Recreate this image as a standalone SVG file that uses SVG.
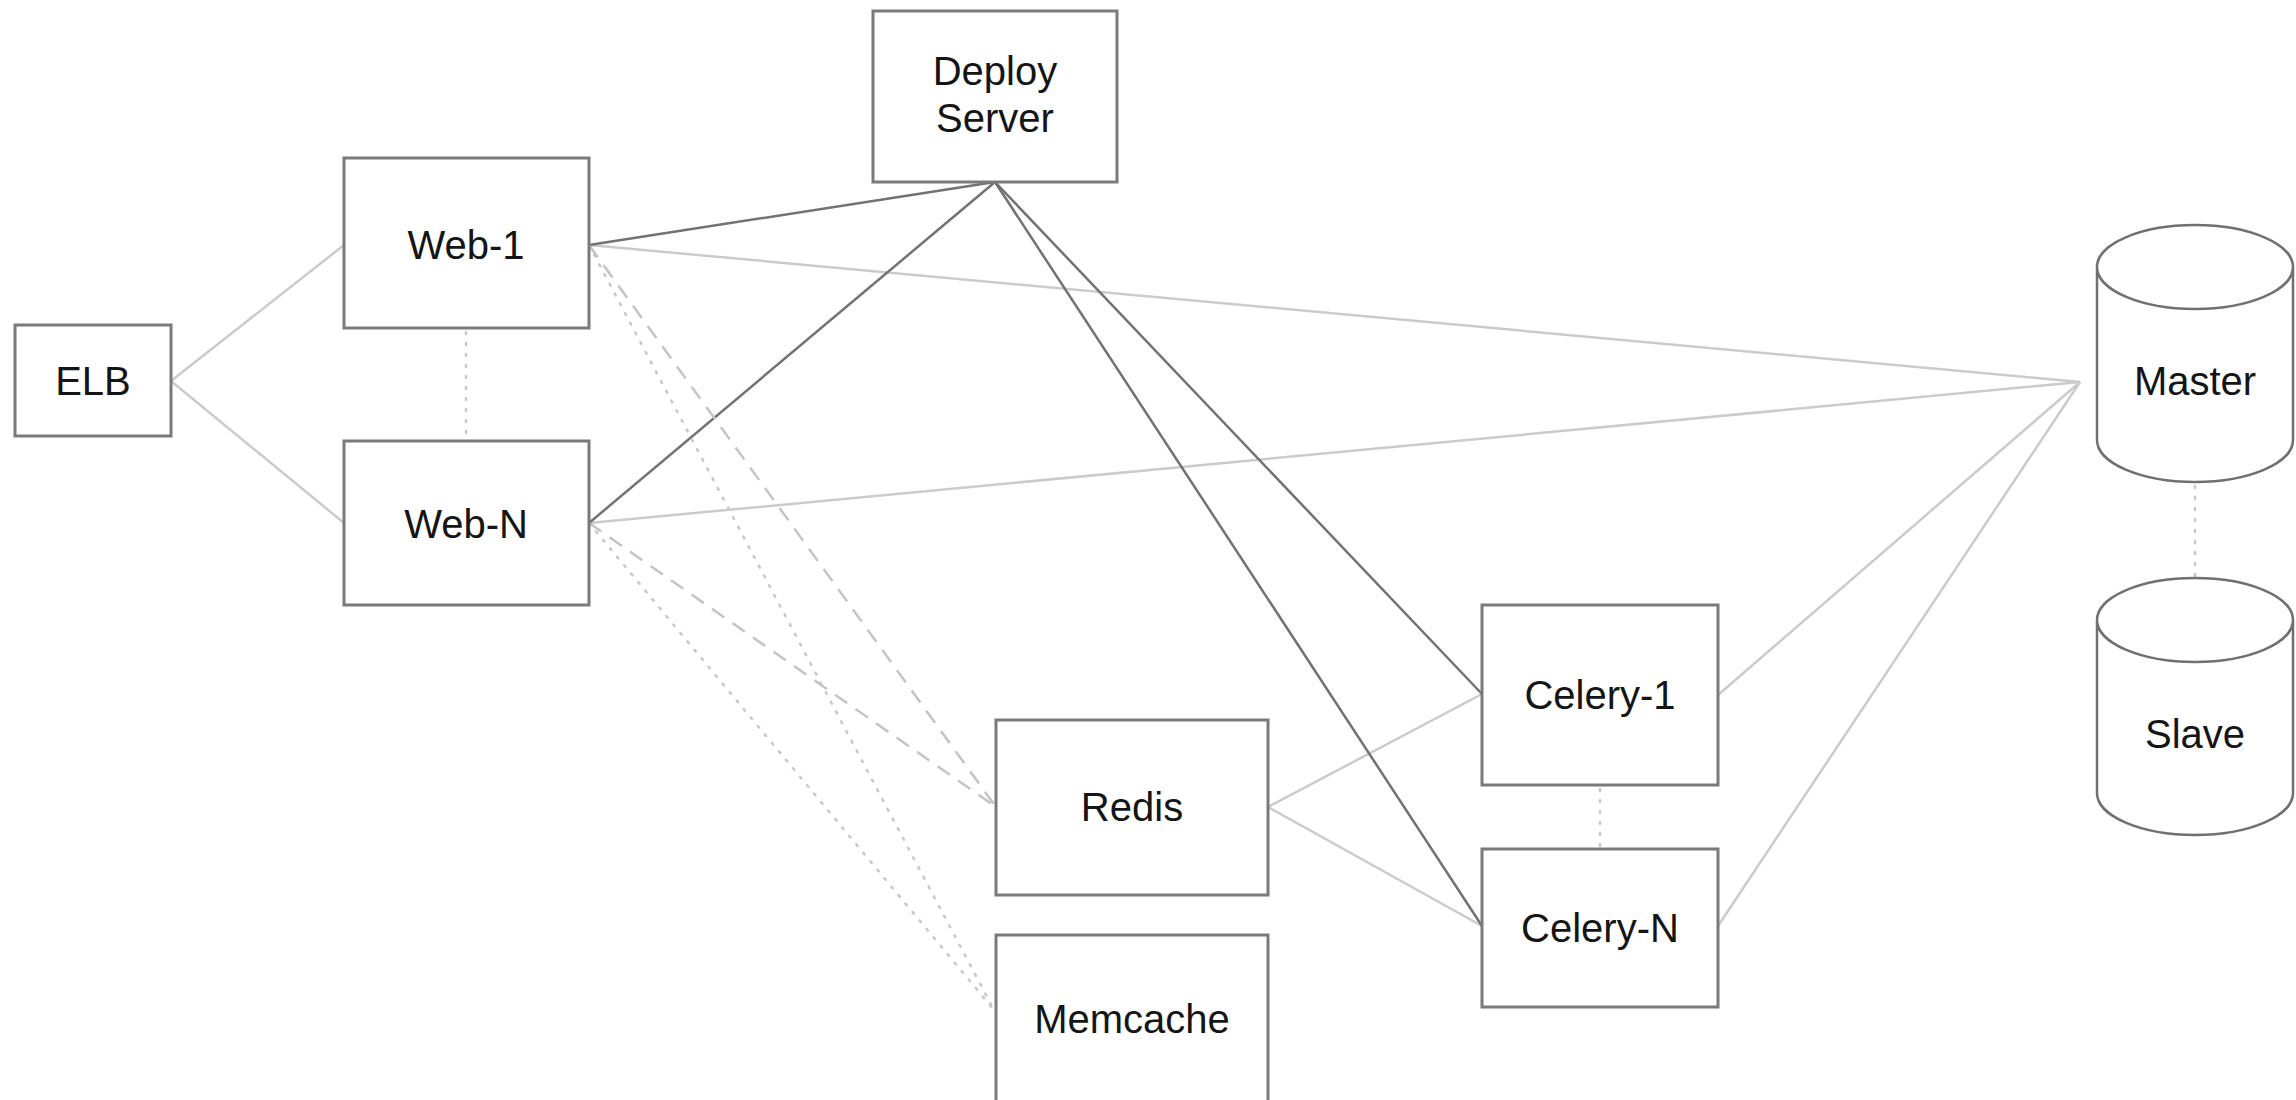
<svg xmlns="http://www.w3.org/2000/svg" width="2296" height="1100" viewBox="0 0 2296 1100">
<style>
.box{fill:#fff;stroke:#7a7a7a;stroke-width:3}
.cyl{fill:#fff;stroke:#707070;stroke-width:2.5}
.lbl{font-family:"Liberation Sans",Arial,sans-serif;font-size:40px;fill:#151515;text-anchor:middle}
.light{stroke:#cbcbcb;stroke-width:2.5;fill:none}
.dark{stroke:#727272;stroke-width:2.5;fill:none}
.dash{stroke:#c4c4c4;stroke-width:2.5;fill:none;stroke-dasharray:15 10}
.dot{stroke:#c8c8c8;stroke-width:2.5;fill:none;stroke-dasharray:2 9;stroke-linecap:round}
</style>
<rect width="2296" height="1100" fill="#fff"/>
<g id="connectors">
<line class="light" x1="171" y1="381" x2="344" y2="245"/>
<line class="light" x1="171" y1="381" x2="344" y2="523"/>
<line class="light" x1="589" y1="245" x2="2080" y2="382"/>
<line class="light" x1="589" y1="523" x2="2080" y2="382"/>
<line class="light" x1="1718" y1="695" x2="2080" y2="382"/>
<line class="light" x1="1718" y1="926" x2="2080" y2="382"/>
<line class="light" x1="1268" y1="807" x2="1482" y2="694"/>
<line class="light" x1="1268" y1="807" x2="1482" y2="926"/>
<line class="dark" x1="995" y1="182" x2="589" y2="245"/>
<line class="dark" x1="995" y1="182" x2="589" y2="523"/>
<line class="dark" x1="995" y1="182" x2="1482" y2="694"/>
<line class="dark" x1="995" y1="182" x2="1482" y2="926"/>
<line class="dash" x1="589" y1="245" x2="996" y2="807"/>
<line class="dash" x1="589" y1="523" x2="996" y2="807"/>
<line class="dot" x1="589" y1="245" x2="994" y2="1010"/>
<line class="dot" x1="589" y1="523" x2="994" y2="1010"/>
<line class="dot" x1="466" y1="332" x2="466" y2="440"/>
<line class="dot" x1="1600" y1="789" x2="1600" y2="848"/>
<line class="dot" x1="2195" y1="486" x2="2195" y2="577"/>
</g>
<g id="elb"><rect class="box" x="15" y="325" width="156" height="111"/><text class="lbl" x="93" y="395">ELB</text></g>
<g id="web1"><rect class="box" x="344" y="158" width="245" height="170"/><text class="lbl" x="466" y="259">Web-1</text></g>
<g id="webn"><rect class="box" x="344" y="441" width="245" height="164"/><text class="lbl" x="466" y="538">Web-N</text></g>
<g id="deploy"><rect class="box" x="873" y="11" width="244" height="171"/><text class="lbl" x="995" y="85">Deploy</text><text class="lbl" x="995" y="132">Server</text></g>
<g id="redis"><rect class="box" x="996" y="720" width="272" height="175"/><text class="lbl" x="1132" y="821">Redis</text></g>
<g id="memcache"><rect class="box" x="996" y="935" width="272" height="176"/><text class="lbl" x="1132" y="1033">Memcache</text></g>
<g id="celery1"><rect class="box" x="1482" y="605" width="236" height="180"/><text class="lbl" x="1600" y="709">Celery-1</text></g>
<g id="celeryn"><rect class="box" x="1482" y="849" width="236" height="158"/><text class="lbl" x="1600" y="942">Celery-N</text></g>
<g id="master"><path class="cyl" d="M2097,267 A98,42 0 0 1 2293,267 L2293,440 A98,42 0 0 1 2097,440 Z M2097,267 A98,42 0 0 0 2293,267"/><text class="lbl" x="2195" y="395">Master</text></g>
<g id="slave"><path class="cyl" d="M2097,620 A98,42 0 0 1 2293,620 L2293,793 A98,42 0 0 1 2097,793 Z M2097,620 A98,42 0 0 0 2293,620"/><text class="lbl" x="2195" y="748">Slave</text></g>
</svg>
